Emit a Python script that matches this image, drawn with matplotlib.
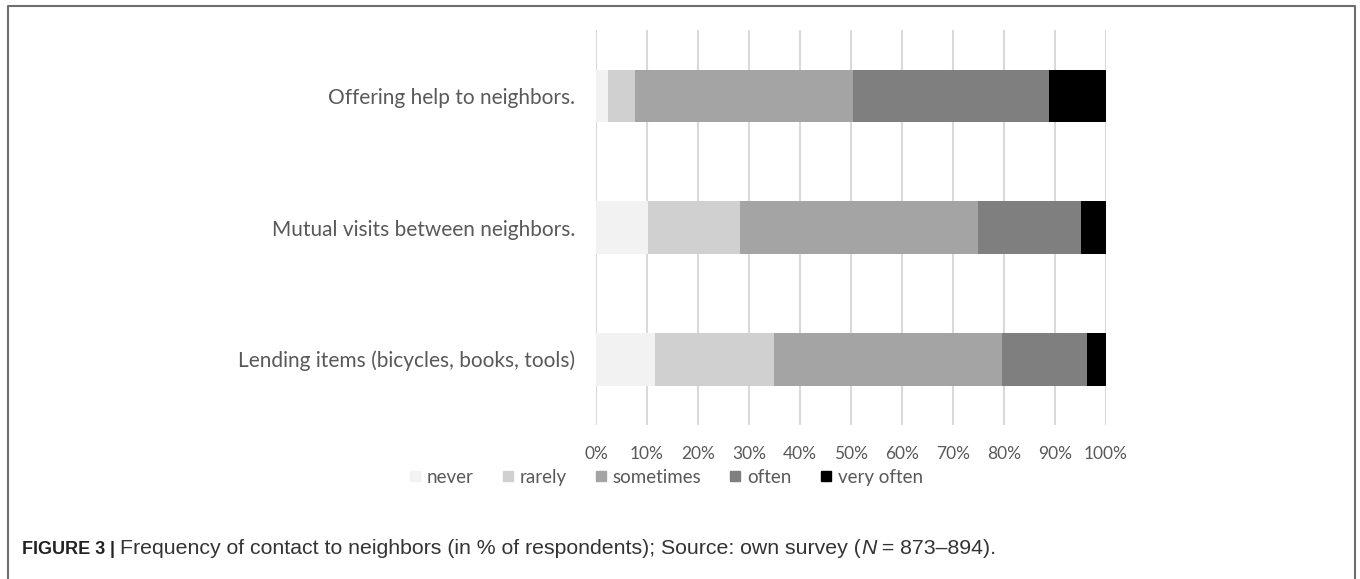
'''Stacked 100% bar chart: frequency of contact to neighbors'''
import matplotlib
matplotlib.use('Agg')
from matplotlib import pyplot as plt
from matplotlib.lines import Line2D
import numpy as np

##########################################
# data (percent of respondents), top row first
categories = ['Offering help to neighbors.',
              'Mutual visits between neighbors.',
              'Lending items (bicycles, books, tools)']
levels = ['never', 'rarely', 'sometimes', 'often', 'very often']
never = [2.4, 10.1, 11.6]
rarely = [5.2, 18.1, 23.3]
sometimes = [42.8, 46.7, 44.8]
often = [38.5, 20.2, 16.5]
very_often = [11.1, 4.9, 3.8]
ticks = [0, 10, 20, 30, 40, 50, 60, 70, 80, 90, 100]

colours = ['#f2f2f2', '#d0d0d0', '#a4a4a4', '#7f7f7f', '#000000']
txt_col = '#595959'
plt.rcParams['font.family'] = ['Lato', 'DejaVu Sans']

##########################################

W, H = 1360, 579
fig = plt.figure(figsize=(W/100, H/100), dpi=100)
ax = fig.add_axes([596/W, 1-425/H, 510/W, 395/H])

series = [never, rarely, sometimes, often, very_often]
ypos = np.arange(len(categories))
left = np.zeros(len(categories))
for vals, col, name in zip(series, colours, levels):
    ax.barh(ypos, vals, left=left, height=0.4, color=col, label=name, zorder=3)
    left += np.array(vals)

ax.set_ylim(len(categories)-0.5, -0.5)
ax.set_xlim(0, 100)
ax.set_xticks(ticks)
ax.set_xticklabels([f'{t}%' for t in ticks])
ax.set_yticks(ypos)
ax.set_yticklabels(categories)
ax.tick_params(axis='x', length=0, pad=15, labelsize=12.5, labelcolor=txt_col)
ax.tick_params(axis='y', length=0, pad=15, labelsize=15, labelcolor=txt_col)
ax.grid(axis='x', color='#d9d9d9', lw=1.5, zorder=0)
for s in ax.spines.values():
    s.set_visible(False)

# legend under the axis labels, square markers as handles
handles = [Line2D([], [], marker='s', ls='', color=c, markersize=7.5) for c in colours]
fig.legend(handles, levels, loc='center', bbox_to_anchor=(666/W, 1-477/H), ncol=5,
           frameon=False, handlelength=0.6, handleheight=1.0, handletextpad=0.35,
           columnspacing=1.5, fontsize=13.5, labelcolor=txt_col)

# frame round the figure (top, left, right only)
fig.add_artist(Line2D([8/W, 8/W, 1355/W, 1355/W], [0, 1-6/H, 1-6/H, 0],
                      transform=fig.transFigure, color='#6e6e6e', lw=1.5))

# caption, built from pieces so that N can be italic
cap_font = ['Liberation Sans Narrow', 'Liberation Sans']
pieces = [('FIGURE 3', 'bold', 'normal', '#222222', 13),
          (' | ', 'bold', 'normal', '#222222', 13),
          ('Frequency of contact to neighbors (in % of respondents); Source: own survey (', 'normal', 'normal', '#333333', 15.3),
          ('N', 'normal', 'italic', '#333333', 15.3),
          (' = 873–894).', 'normal', 'normal', '#333333', 15.3)]
fig.canvas.draw()
renderer = fig.canvas.get_renderer()
x = 22/W
for txt, wt, st, col, fs in pieces:
    t = fig.text(x, 1-549/H, txt, fontsize=fs, fontweight=wt, fontstyle=st,
                 color=col, family=cap_font, va='center', ha='left')
    bb = t.get_window_extent(renderer=renderer)
    x += bb.width/W

fig.savefig('out.png', dpi=100)
